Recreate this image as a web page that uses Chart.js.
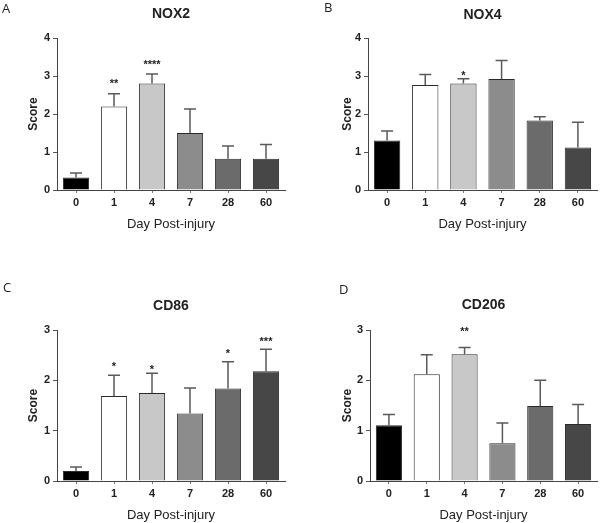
<!DOCTYPE html>
<html>
<head>
<meta charset="utf-8">
<script src="https://cdn.jsdelivr.net/npm/chart.js@4.4.0/dist/chart.umd.min.js"></script>
<style>
    body { margin: 0; background: #fff; }
    #wrap { position: relative; width: 600px; height: 523px; overflow: hidden; }
    .panel { position: absolute; }
    .letter { position: absolute; font-family: "Open Sans", sans-serif; font-size: 13px; color: #222; line-height: 1; }
</style>
</head>
<body>
<div id="wrap">
    <div class="panel" style="left:0;top:0"><canvas id="chartA" width="300" height="260"></canvas></div>
    <div class="panel" style="left:300px;top:0"><canvas id="chartB" width="300" height="260"></canvas></div>
    <div class="panel" style="left:0;top:260px"><canvas id="chartC" width="300" height="263"></canvas></div>
    <div class="panel" style="left:300px;top:260px"><canvas id="chartD" width="300" height="263"></canvas></div>
    <div class="letter" style="left:2px;top:2px">A</div>
    <div class="letter" style="left:324px;top:1px">B</div>
    <div class="letter" style="left:3px;top:281px">C</div>
    <div class="letter" style="left:339px;top:283px">D</div>
</div>
<script>
// data (mean and upper error, score units)
var days = ['0', '1', '4', '7', '28', '60'];

var nox2Mean = [0.33, 2.2, 2.8, 1.5, 0.82, 0.82];
var nox2Err = [0.12, 0.33, 0.25, 0.63, 0.34, 0.38];
var nox2Stars = ['', '**', '****', '', '', ''];
var nox2StarY = [null, 2.89, 3.39, null, null, null];

var nox4Mean = [1.3, 2.76, 2.8, 2.92, 1.83, 1.12];
var nox4Err = [0.25, 0.28, 0.13, 0.49, 0.1, 0.66];
var nox4Stars = ['', '', '*', '', '', ''];
var nox4StarY = [null, null, 3.09, null, null, null];

var cd86Mean = [0.2, 1.69, 1.75, 1.34, 1.84, 2.18];
var cd86Err = [0.08, 0.41, 0.39, 0.51, 0.53, 0.44];
var cd86Stars = ['', '*', '*', '', '*', '***'];
var cd86StarY = [null, 2.33, 2.27, null, 2.6, 2.83];

var cd206Mean = [1.11, 2.12, 2.52, 0.75, 1.49, 1.13];
var cd206Err = [0.21, 0.39, 0.13, 0.4, 0.51, 0.39];
var cd206Stars = ['', '', '**', '', '', ''];
var cd206StarY = [null, null, 3.03, null, null, null];

var barColors = ['#000000', '#ffffff', '#c8c8c8', '#8c8c8c', '#6b6b6b', '#474747'];
var axisFont = "'Liberation Sans', Arial, sans-serif";

// error bars, significance stars and the centred title
var extrasPlugin = {
    id: 'extras',
    afterDatasetsDraw: function(chart, args, opts) {
        var ctx = chart.ctx;
        var meta = chart.getDatasetMeta(0);
        var y = chart.scales.y;
        var ds = chart.data.datasets[0];
        ctx.save();
        ctx.strokeStyle = '#5a5a5a';
        ctx.lineWidth = 1.5;
        meta.data.forEach(function(bar, i) {
            var top = y.getPixelForValue(ds.data[i] + opts.err[i]);
            ctx.beginPath();
            ctx.moveTo(bar.x, bar.y);
            ctx.lineTo(bar.x, top);
            ctx.moveTo(bar.x - 6, top);
            ctx.lineTo(bar.x + 6, top);
            ctx.stroke();
        });
        ctx.fillStyle = '#222';
        ctx.font = 'bold 11px ' + axisFont;
        ctx.textAlign = 'center';
        ctx.textBaseline = 'alphabetic';
        meta.data.forEach(function(bar, i) {
            if (!opts.stars[i]) return;
            ctx.fillText(opts.stars[i], bar.x, y.getPixelForValue(opts.starY[i]) + 6.4);
        });
        var ca = chart.chartArea;
        ctx.font = 'bold 14px ' + axisFont;
        ctx.textBaseline = 'middle';
        ctx.fillText(opts.title, (ca.left + ca.right) / 2, opts.titleY);
        ctx.restore();
    }
};

function makeChart(id, title, means, errs, stars, starY, yMax, g) {
    var ctx = document.getElementById(id).getContext('2d');
    return new Chart(ctx, {
        type: 'bar',
        data: {
            labels: days,
            datasets: [{
                data: means,
                backgroundColor: barColors,
                borderColor: '#2a2a2a',
                borderWidth: 1,
                borderSkipped: 'bottom',
                barPercentage: 0.69,
                categoryPercentage: 1
            }]
        },
        options: {
            responsive: false,
            animation: false,
            events: [],
            layout: {
                padding: { left: g.padLeft, right: g.padRight, top: g.padTop, bottom: g.padBottom }
            },
            plugins: {
                legend: { display: false },
                tooltip: { enabled: false },
                extras: { title: title, titleY: g.titleY, err: errs, stars: stars, starY: starY }
            },
            scales: {
                x: {
                    afterFit: function(s) { s.height = g.xHeight; },
                    grid: {
                        display: true,
                        drawOnChartArea: false,
                        offset: false,
                        drawTicks: true,
                        tickLength: 3,
                        color: '#777'
                    },
                    border: { display: true, color: '#444', width: 1 },
                    ticks: {
                        padding: 3,
                        color: '#222',
                        font: { size: 11, weight: 'bold', family: axisFont }
                    },
                    title: {
                        display: true,
                        text: 'Day Post-injury',
                        color: '#222',
                        padding: 0,
                        font: { size: 13, family: axisFont }
                    }
                },
                y: {
                    min: 0,
                    max: yMax,
                    afterFit: function(s) { s.width = g.yWidth; },
                    grid: {
                        display: true,
                        drawOnChartArea: false,
                        drawTicks: true,
                        tickLength: 4,
                        color: '#555'
                    },
                    border: { display: true, color: '#444', width: 1 },
                    ticks: {
                        stepSize: 1,
                        padding: 3,
                        color: '#222',
                        font: { size: 11, weight: 'bold', family: axisFont }
                    },
                    title: {
                        display: true,
                        text: 'Score',
                        color: '#222',
                        padding: 0,
                        font: { size: 12, weight: 'bold', family: axisFont }
                    }
                }
            }
        },
        plugins: [extrasPlugin]
    });
}

makeChart('chartA', 'NOX2', nox2Mean, nox2Err, nox2Stars, nox2StarY, 4,
    { padLeft: 26, yWidth: 31, padRight: 15, padTop: 38, xHeight: 42, padBottom: 28, titleY: 14 });
makeChart('chartB', 'NOX4', nox4Mean, nox4Err, nox4Stars, nox4StarY, 4,
    { padLeft: 40, yWidth: 28, padRight: 3, padTop: 38, xHeight: 42, padBottom: 28, titleY: 15 });
makeChart('chartC', 'CD86', cd86Mean, cd86Err, cd86Stars, cd86StarY, 3,
    { padLeft: 26, yWidth: 31, padRight: 15, padTop: 70, xHeight: 42, padBottom: 0, titleY: 46 });
makeChart('chartD', 'CD206', cd206Mean, cd206Err, cd206Stars, cd206StarY, 3,
    { padLeft: 40, yWidth: 30, padRight: 3, padTop: 70, xHeight: 42, padBottom: 0, titleY: 45 });
</script>
</body>
</html>
